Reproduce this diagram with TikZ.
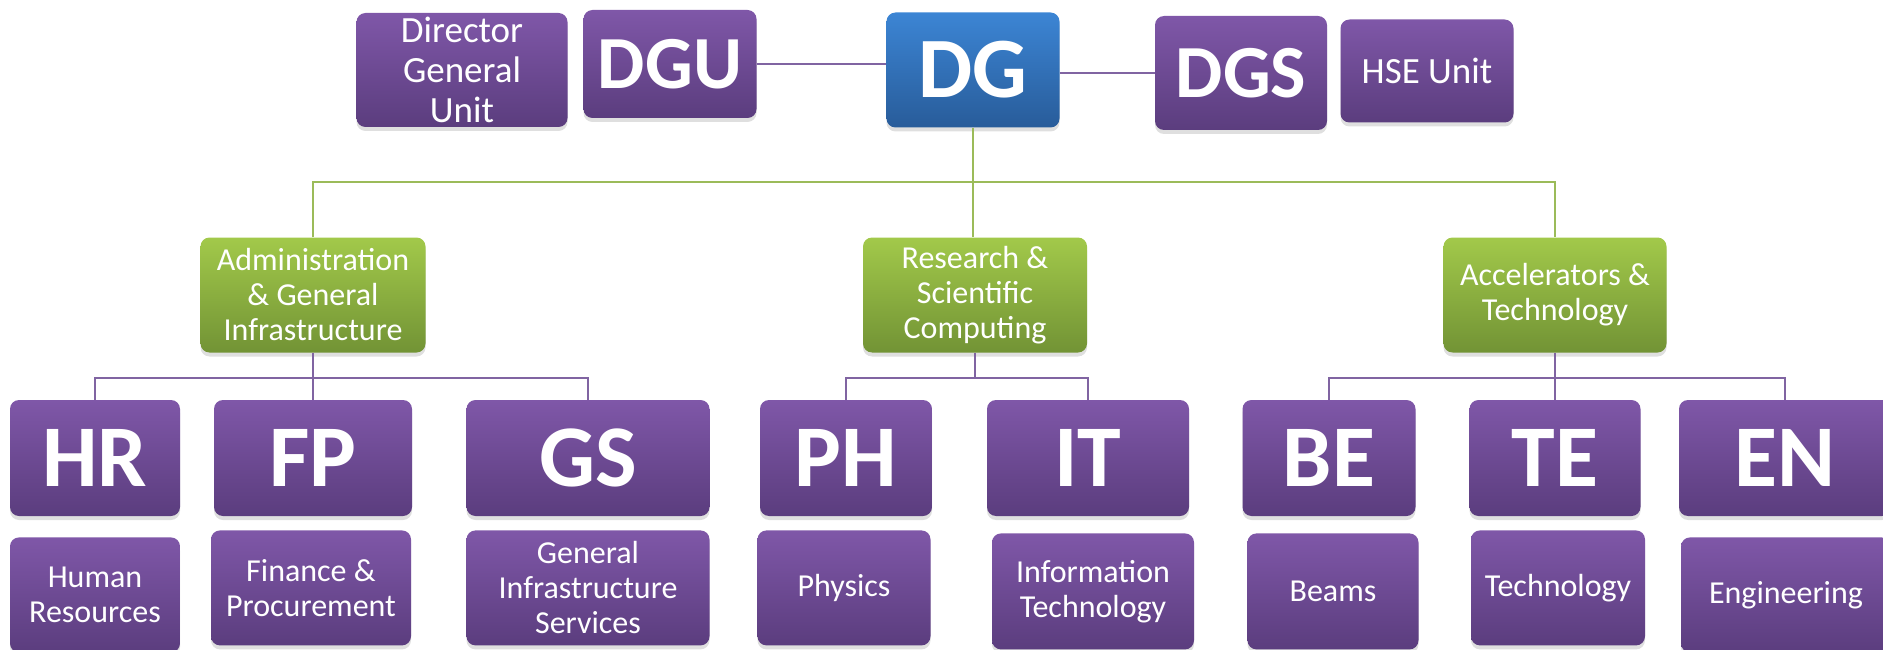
\documentclass[tikz,border=0pt]{standalone}
\usepackage{fontspec}
\setmainfont{Carlito}
\usetikzlibrary{shadows,positioning}
\definecolor{purpletop}{HTML}{7F57A8}
\definecolor{purplebot}{HTML}{5B3D7E}
\definecolor{greentop}{HTML}{A2C94A}
\definecolor{greenbot}{HTML}{729335}
\definecolor{bluetop}{HTML}{3C85D4}
\definecolor{bluebot}{HTML}{285C9A}
\definecolor{greenline}{HTML}{9BBB59}
\definecolor{purpleline}{HTML}{8064A2}
\begin{document}
\begin{tikzpicture}[x=1pt,y=-1pt]

    % Styles
    \tikzstyle{unitbox} = [rectangle, rounded corners=9pt, align=center, text centered, text=white, inner sep=0pt, top color=purpletop, bottom color=purplebot, drop shadow={opacity=0.25, shadow xshift=0pt, shadow yshift=-4pt}]
    \tikzstyle{abbr} = [unitbox, font=\bfseries\fontsize{88}{88}\selectfont]
    \tikzstyle{abbrsmall} = [unitbox, font=\bfseries\fontsize{75}{75}\selectfont]
    \tikzstyle{fullname} = [unitbox, font=\fontsize{32}{35}\selectfont]
    \tikzstyle{dept} = [fullname, top color=greentop, bottom color=greenbot]
    \tikzstyle{dgbox} = [abbr, font=\bfseries\fontsize{86}{86}\selectfont, top color=bluetop, bottom color=bluebot]
    \tikzstyle{greenlink} = [draw=greenline, line width=1.5pt]
    \tikzstyle{purplelink} = [draw=purpleline, line width=1.5pt]

    \useasboundingbox (0,0) rectangle (1883,650);

    % Direction
    \node (dgunit) [fullname, minimum width=211, minimum height=114, font=\fontsize{37}{40}\selectfont] at (462,70) {Director\\General\\Unit};
    \node (dgu) [abbrsmall, minimum width=173, minimum height=108] at (670,64) {DGU};
    \node (dg) [dgbox, minimum width=173, minimum height=115] at (973,70) {DG};
    \node (dgs) [abbrsmall, minimum width=172, minimum height=114] at (1241,73) {DGS};
    \node (hse) [fullname, minimum width=173, minimum height=103, font=\fontsize{37}{40}\selectfont] at (1427,71) {HSE Unit};

    % Sectors
    \node (adm) [dept, minimum width=225, minimum height=115] at (313,295) {Administration\\\& General\\Infrastructure};
    \node (rsc) [dept, minimum width=224, minimum height=115] at (975,295) {Research \&\\Scientific\\Computing};
    \node (atd) [dept, minimum width=223, minimum height=115] at (1555,295) {Accelerators \&\\Technology};

    % Departments
    \node (hr) [abbr, minimum width=170, minimum height=116] at (95,458) {HR};
    \node (fp) [abbr, minimum width=198, minimum height=116] at (313,458) {FP};
    \node (gs) [abbr, minimum width=243, minimum height=116] at (588,458) {GS};
    \node (ph) [abbr, minimum width=172, minimum height=116] at (846,458) {PH};
    \node (it) [abbr, minimum width=202, minimum height=116] at (1088,458) {IT};
    \node (be) [abbr, minimum width=173, minimum height=116] at (1329,458) {BE};
    \node (te) [abbr, minimum width=171, minimum height=116] at (1555,458) {TE};
    \node (en) [abbr, minimum width=212, minimum height=116] at (1785,458) {EN};

    % Department names
    \node (hr-name) [fullname, minimum width=170, minimum height=115, below=21pt of hr] {Human\\Resources};
    \node (fp-name) [fullname, minimum width=200, minimum height=115, below=14pt of fp, xshift=-2pt] {Finance \&\\Procurement};
    \node (gs-name) [fullname, minimum width=243, minimum height=115, below=14pt of gs] {General\\Infrastructure\\Services};
    \node (ph-name) [fullname, minimum width=173, minimum height=115, below=14pt of ph, xshift=-2pt] {Physics};
    \node (it-name) [fullname, minimum width=202, minimum height=116, below=17pt of it, xshift=5pt] {Information\\Technology};
    \node (be-name) [fullname, minimum width=171, minimum height=116, below=17pt of be, xshift=4pt] {Beams};
    \node (te-name) [fullname, minimum width=174, minimum height=115, below=14pt of te, xshift=3pt] {Technology};
    \node (en-name) [fullname, minimum width=210, minimum height=115, below=21pt of en, xshift=1pt] {Engineering};

    % Links
    \draw [purplelink] (dgu.east) -- (dgu.east -| dg.west);
    \draw [purplelink] (dg.east |- dgs.west) -- (dgs.west);
    \coordinate (bus) at (973,182);
    \draw [greenlink] (dg.south) -- (dg.south |- rsc.north);
    \draw [greenlink] (adm.north) |- (bus) -| (atd.north);
    \coordinate (adm-bus) at (313,378);
    \coordinate (rsc-bus) at (975,378);
    \coordinate (atd-bus) at (1555,378);
    \draw [purplelink] (adm.south) -- (fp.north);
    \draw [purplelink] (hr.north) |- (adm-bus) -| (gs.north);
    \draw [purplelink] (rsc.south) -- (rsc-bus);
    \draw [purplelink] (ph.north) |- (rsc-bus) -| (it.north);
    \draw [purplelink] (atd.south) -- (te.north);
    \draw [purplelink] (be.north) |- (atd-bus) -| (en.north);

\end{tikzpicture}
\end{document}
